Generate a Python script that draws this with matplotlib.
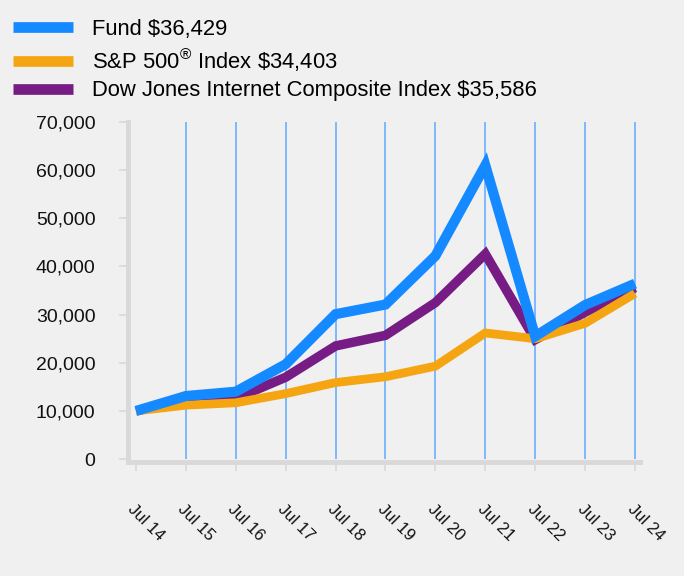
import matplotlib
matplotlib.use("Agg")
import matplotlib.pyplot as plt

plt.rcParams['font.family'] = ['Liberation Sans', 'DejaVu Sans']
plt.rcParams['mathtext.fontset'] = 'custom'
plt.rcParams['mathtext.rm'] = 'Liberation Sans'

years = ["Jul 14", "Jul 15", "Jul 16", "Jul 17", "Jul 18", "Jul 19",
         "Jul 20", "Jul 21", "Jul 22", "Jul 23", "Jul 24"]
fund = [10000, 13100, 14000, 19700, 30100, 32100, 42200, 61000, 25500, 32000, 36429]
sp500 = [10000, 11200, 11700, 13600, 15900, 17100, 19300, 26200, 25000, 28200, 34403]
djinet = [10000, 12300, 12600, 17000, 23500, 25700, 32500, 42600, 24800, 30500, 35586]

labels = ["Fund \\$36,429",
          r"S&P 500$^{\mathrm{®}}$ Index \$34,403",
          "Dow Jones Internet Composite Index \\$35,586"]
yticks = [0, 10000, 20000, 30000, 40000, 50000, 60000, 70000]

c_fund = '#1589FF'
c_sp = '#F5A511'
c_dj = '#761C84'
bg = '#F0F0F0'
axc = '#D9D9D9'

fig = plt.figure(figsize=(6.84, 5.76), dpi=100, facecolor=bg)
ax = fig.add_axes([128/684, 114/576, (640-128)/684, (462-122)/576])
ax.set_facecolor(bg)

x = list(range(len(years)))
ax.vlines(x[1:], 0, 70000, colors='#6AAFFF', linewidth=1.2, zorder=1)

l_dj, = ax.plot(x, djinet, color=c_dj, lw=6.8, solid_joinstyle='miter', solid_capstyle='butt', zorder=3)
l_sp, = ax.plot(x, sp500, color=c_sp, lw=6.3, solid_joinstyle='miter', solid_capstyle='butt', zorder=4)
l_f, = ax.plot(x, fund, color=c_fund, lw=7.3, solid_joinstyle='miter', solid_capstyle='butt', zorder=5)

ax.set_xlim(-0.16, 10.1)
ax.set_ylim(-600, 70000)
ax.set_yticks(yticks)
ax.set_yticklabels([f"{v:,}" for v in yticks], fontsize=14)
ax.set_xticks(x)
ax.set_xticklabels(years, fontsize=12, rotation=-45, ha='left', va='top', rotation_mode='anchor')

for s in ['top', 'right']:
    ax.spines[s].set_visible(False)
for s in ['left', 'bottom']:
    ax.spines[s].set_color(axc)
    ax.spines[s].set_linewidth(3.5)
ax.tick_params(axis='both', colors=axc, labelcolor='#111111', length=6.5, width=1.2)
ax.tick_params(axis='x', pad=22)
ax.tick_params(axis='y', pad=17)

leg = fig.legend([l_f, l_sp, l_dj], labels, loc='upper left',
                 bbox_to_anchor=(4/684, 1 - 10/576), frameon=False,
                 fontsize=15.8, handlelength=2.74, handletextpad=0.87,
                 labelspacing=0.3, borderaxespad=0)
for h in leg.get_lines():
    h.set_linewidth(7.7)

fig.savefig("out.png", dpi=100, facecolor=bg)
